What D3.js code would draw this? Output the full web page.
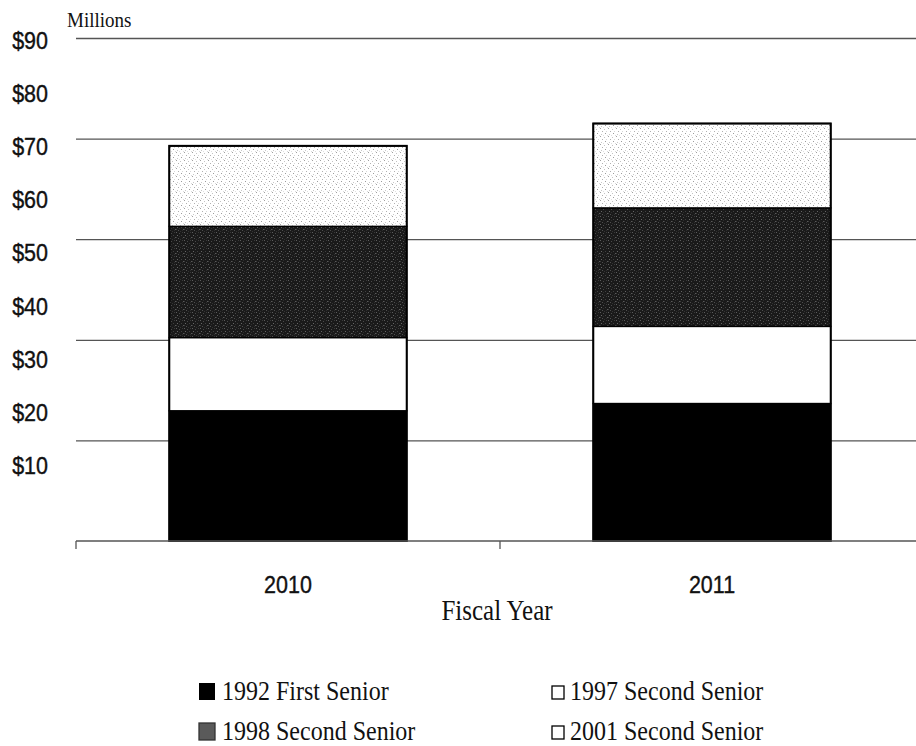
<!DOCTYPE html>
<html>
<head>
<meta charset="utf-8">
<script src="https://cdn.jsdelivr.net/npm/d3@7/dist/d3.min.js"></script>
<style>
  html, body { margin: 0; padding: 0; background: #fff; }
  svg { display: block; }
</style>
</head>
<body>
<svg id="chart" width="916" height="746"></svg>
<script>
// Debt service by bond series, in millions of dollars
const years = ["2010", "2011"];
const series = ["1992 First Senior", "1997 Second Senior", "1998 Second Senior", "2001 Second Senior"];
const firstSenior1992  = [23.3, 24.6];
const secondSenior1997 = [13.1, 13.8];
const secondSenior1998 = [19.9, 21.2];
const secondSenior2001 = [14.4, 15.1];
const yTickLabels = [10, 20, 30, 40, 50, 60, 70, 80, 90];
const gridValues = [18, 36, 54, 72, 90];

const svg = d3.select("#chart");
const W = 916;
const STRETCH = 1.15;           // tall, narrow lettering
const sans = "'Liberation Sans', Arial, sans-serif";
const serif = "'Liberation Serif', 'Times New Roman', serif";

// Speckled fill textures (fixed 8x8 tiles)
const defs = svg.append("defs");
function speckle(id, bg, dots) {
  const p = defs.append("pattern").attr("id", id)
    .attr("width", 8).attr("height", 8).attr("patternUnits", "userSpaceOnUse");
  p.append("rect").attr("width", 8).attr("height", 8).attr("fill", bg);
  dots.forEach(([x, y, c]) => p.append("rect").attr("x", x).attr("y", y)
    .attr("width", 1).attr("height", 1).attr("fill", c));
}
speckle("darkDots", "#1a1a1a", [
  [0, 0, "#5c5c5c"], [3, 1, "#4a4a4a"], [6, 0, "#3a3a3a"], [1, 3, "#666"],
  [5, 3, "#404040"], [7, 5, "#5a5a5a"], [2, 6, "#4e4e4e"], [4, 7, "#333"],
  [0, 5, "#3c3c3c"], [6, 6, "#2e2e2e"], [3, 4, "#303030"]
]);
speckle("lightDots", "#ffffff", [
  [0, 0, "#a0a0a0"], [4, 1, "#c4c4c4"], [2, 3, "#b0b0b0"], [6, 3, "#d8d8d8"],
  [1, 6, "#c8c8c8"], [5, 5, "#9c9c9c"], [7, 7, "#dadada"], [3, 7, "#e0e0e0"]
]);
const fills = ["#000", "#fff", "url(#darkDots)", "url(#lightDots)"];

// Scales
const plotLeft = 76, plotBottom = 541, plotTop = 38;
const x = d3.scaleBand().domain(years).range([plotLeft, 924]).padding(0);
const y = d3.scaleLinear().domain([0, 90]).range([plotBottom, plotTop]);
const yLabel = d3.scaleLinear().domain([0, 90]).range([527, 48]);
const barW = x.bandwidth() * 0.56;

// Stacked rows
const rows = years.map((yr, i) => ({
  year: yr,
  [series[0]]: firstSenior1992[i],
  [series[1]]: secondSenior1997[i],
  [series[2]]: secondSenior1998[i],
  [series[3]]: secondSenior2001[i]
}));
const stacked = d3.stack().keys(series)(rows);

// Gridlines
const grid = svg.append("g").attr("transform", `translate(${plotLeft},0)`)
  .call(d3.axisLeft(y).tickValues(gridValues).tickSize(-(W - plotLeft)).tickFormat(""));
grid.select(".domain").remove();
grid.selectAll(".tick line").attr("stroke", "#555").attr("stroke-width", 1.3);

// Bars
const barG = svg.append("g");
barG.selectAll("g").data(stacked).join("g")
  .attr("fill", (d, i) => fills[i])
  .selectAll("rect").data(d => d).join("rect")
  .attr("x", d => x(d.data.year) + (x.bandwidth() - barW) / 2)
  .attr("y", d => y(d[1]))
  .attr("width", barW)
  .attr("height", d => y(d[0]) - y(d[1]))
  .attr("stroke", "#000").attr("stroke-width", 1.4);
// Outline around each full stack
barG.append("g").selectAll("rect").data(rows).join("rect")
  .attr("x", d => x(d.year) + (x.bandwidth() - barW) / 2)
  .attr("y", d => y(d3.sum(series, s => d[s])))
  .attr("width", barW)
  .attr("height", d => y(0) - y(d3.sum(series, s => d[s])))
  .attr("fill", "none").attr("stroke", "#000").attr("stroke-width", 2);

// Category axis along the base
const xAxis = svg.append("g").attr("transform", `translate(0,${plotBottom})`)
  .call(d3.axisBottom(x).tickSize(0));
xAxis.select(".domain").remove();
xAxis.selectAll(".tick text")
  .attr("y", null).attr("dy", null)
  .attr("transform", `translate(0,52) scale(1,${STRETCH})`)
  .attr("font-family", sans).attr("font-size", 21.5).attr("fill", "#111")
  .attr("stroke", "#111").attr("stroke-width", 0.35);
svg.append("line").attr("x1", plotLeft).attr("x2", W)
  .attr("y1", plotBottom).attr("y2", plotBottom)
  .attr("stroke", "#555").attr("stroke-width", 1.3);
svg.append("g").selectAll("line").data(years.map(d => x(d)).concat([x.range()[1]])).join("line")
  .attr("x1", d => d).attr("x2", d => d)
  .attr("y1", plotBottom).attr("y2", plotBottom + 8)
  .attr("stroke", "#555").attr("stroke-width", 1.3);

// Dollar labels
const yAxis = svg.append("g").attr("transform", "translate(48,0)")
  .call(d3.axisLeft(yLabel).tickValues(yTickLabels).tickSize(0).tickPadding(0)
    .tickFormat(d => "$" + d));
yAxis.select(".domain").remove();
yAxis.selectAll(".tick text")
  .attr("x", 0).attr("dy", null)
  .attr("transform", `scale(1,${STRETCH})`)
  .attr("font-family", sans).attr("font-size", 21.5).attr("fill", "#111")
  .attr("stroke", "#111").attr("stroke-width", 0.35);

// Free text
function label(txt, px, py, font, size, anchor) {
  svg.append("text").text(txt)
    .attr("transform", `translate(${px},${py}) scale(1,${STRETCH})`)
    .attr("font-family", font).attr("font-size", size)
    .attr("text-anchor", anchor || "start").attr("fill", "#111");
}
label("Millions", 67, 27, serif, 19);
label("Fiscal Year", 497, 620, serif, 25, "middle");

// Legend (two columns, row by row)
const legendPos = [
  { sx: 199, sy: 683, size: 16, tx: 222, ty: 700 },
  { sx: 552, sy: 686, size: 12, tx: 570, ty: 700 },
  { sx: 199, sy: 723, size: 16, tx: 222, ty: 740 },
  { sx: 552, sy: 726, size: 12, tx: 570, ty: 740 }
];
const legendFills = ["#000", "#fff", "#5a5a5a", "#fff"];
series.forEach((s, i) => {
  const p = legendPos[i];
  svg.append("rect").attr("x", p.sx).attr("y", p.sy)
    .attr("width", p.size).attr("height", p.size + 1)
    .attr("fill", legendFills[i])
    .attr("stroke", i === 2 ? "#333" : "#000").attr("stroke-width", i === 0 ? 0 : 1.3);
  label(s, p.tx, p.ty, serif, 24);
});
</script>
</body>
</html>
